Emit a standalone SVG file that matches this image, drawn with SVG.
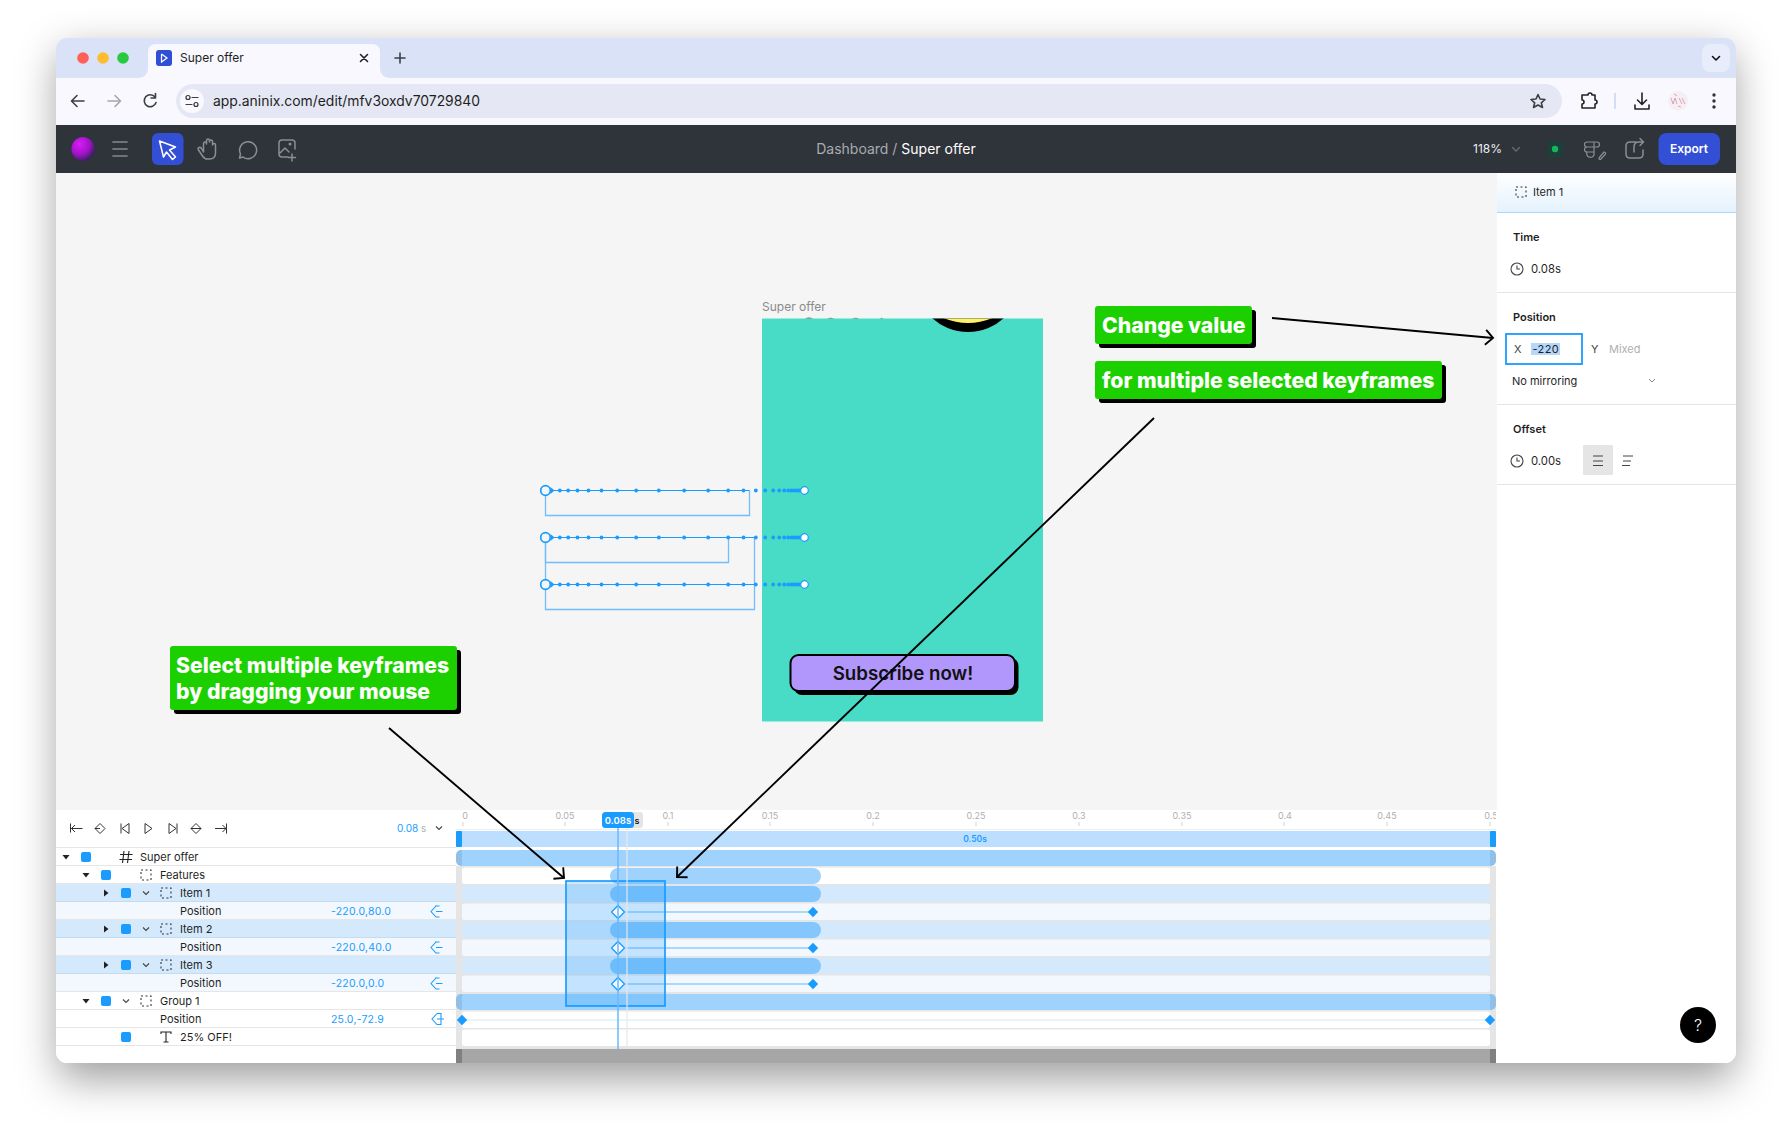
<svg xmlns="http://www.w3.org/2000/svg" width="1792" height="1137" viewBox="0 0 1792 1137">
<style>
text{font-family:Inter,"Liberation Sans",sans-serif;fill:#1f1f1f}
.t11{font-size:11px}
.b{font-weight:600}
.val{font-size:10.500px;fill:#1a9cff;letter-spacing:.2px}
.rul{font-size:9px;fill:#b0b0b0;text-anchor:middle}
.tick{stroke:#e2e2e2;stroke-width:1.5}
.ic{fill:none;stroke:#3c4043;stroke-width:1.6;stroke-linecap:round;stroke-linejoin:round}
.dk{fill:none;stroke:#8b8e93;stroke-width:1.5;stroke-linecap:round;stroke-linejoin:round}
.tb{fill:none;stroke:#333;stroke-width:1}
.sq{fill:#1a9cff}
.call{fill:#1cd000}
.shadow{fill:#000}
.cap{font-weight:800;fill:#fff;font-size:21.200px}
.arrow{fill:none;stroke:#000;stroke-width:1.900}
.path{stroke:#1a9cff;stroke-width:1.200;fill:none}
.box{stroke:#72bdfb;stroke-width:1.300;fill:none}
.dot{fill:#1a9cff}
.sep{stroke:#e6e6e6;stroke-width:1}
.item{fill:#d4e9fc}
.pos{fill:#f3f8fe}
.wht{fill:#fff}
.grp{fill:#9fd2fc}
.bar1{fill:#85c6fc}
.bar2{fill:#9fd2fc}
.kl{stroke:#a9d8fc;stroke-width:2}
.kh{fill:#f3f8fe;stroke:#1a9cff;stroke-width:1.300}
.kf{fill:#1a9cff}
.arrowtri{fill:#222}
.hr{stroke:#e5e5e5;stroke-width:1}
.ptxt{font-size:11px}
</style>
<defs>
<filter id="winshadow" x="-10%" y="-10%" width="120%" height="125%"><feGaussianBlur stdDeviation="20"/></filter>
<clipPath id="winclip"><rect x="56" y="38" width="1680" height="1025" rx="11"/></clipPath>
<clipPath id="artclip"><rect x="762" y="318.500" width="281" height="403"/></clipPath>
<clipPath id="tlclip"><rect x="456" y="810" width="1040" height="253"/></clipPath>
<linearGradient id="hdr" x1="0" y1="0" x2="0" y2="1"><stop offset="0" stop-color="#fff"/><stop offset="1" stop-color="#e4f2fd"/></linearGradient>
<radialGradient id="ball" cx=".35" cy=".3" r=".85"><stop offset="0" stop-color="#d81cf5"/><stop offset=".5" stop-color="#a313c9"/><stop offset=".85" stop-color="#3a1f63"/><stop offset="1" stop-color="#2b2a45"/></radialGradient>
<marker id="open" markerUnits="userSpaceOnUse" markerWidth="20" markerHeight="20" refX="12" refY="10" orient="auto" overflow="visible"><path d="M4.500,2.500 L12,10 L4.500,17.500" fill="none" stroke="#000" stroke-width="1.900"/></marker>
<g id="dash"><rect x="-5" y="-5" width="10" height="10" fill="none" stroke="#333" stroke-width="1.100" stroke-dasharray="2 2.500"/></g>
<g id="clock"><circle r="6" fill="none" stroke="#444" stroke-width="1.100"/><path d="M0,-3.500V0H3" fill="none" stroke="#444" stroke-width="1.100"/></g>
<g id="kficon"><path d="M0,-5.500 L-5,0 L0,5.500 H3.500 M-1,-5.500 H3.500 M0,0 H6.500" fill="none" stroke="#1a9cff" stroke-width="1.100"/></g>
<path id="tri-d" d="M-3.500,-2 H3.500 L0,2.500Z" class="arrowtri"/>
<path id="tri-r" d="M-2,-3.500 V3.500 L2.500,0Z" class="arrowtri"/>
<path id="chev" d="M-3,-1.500 L0,1.500 L3,-1.500" fill="none" stroke="#444" stroke-width="1.100"/>
<rect id="sqr" x="-5" y="-5" width="10" height="10" rx="2" class="sq"/>
<path id="kfill" d="M0,-5.200 L5.200,0 L0,5.200 L-5.200,0Z" class="kf"/>
<path id="khollow" d="M0,-6.500 L6.500,0 L0,6.500 L-6.500,0Z" class="kh"/>
<g id="mp"><path d="M550,-3.500 L554,0 L550,3.500Z" class="dot"/><g class="dot"><circle cx="559.300" r="1.900"/><circle cx="567.700" r="1.900"/><circle cx="577" r="1.900"/><circle cx="588" r="1.900"/><circle cx="601" r="1.900"/><circle cx="616.700" r="1.900"/><circle cx="635.700" r="1.900"/><circle cx="658.300" r="1.900"/><circle cx="683.700" r="1.900"/><circle cx="707.700" r="1.900"/><circle cx="727.700" r="1.900"/><circle cx="743" r="1.900"/><circle cx="755.300" r="1.900"/><circle cx="764.700" r="1.900"/><circle cx="772.700" r="1.900"/><circle cx="778.700" r="1.900"/><circle cx="783.700" r="1.900"/><circle cx="787.700" r="1.900"/><circle cx="791" r="1.900"/><circle cx="793.700" r="1.900"/><circle cx="796" r="1.900"/><circle cx="798" r="1.900"/><circle cx="800" r="1.900"/></g><circle cx="804" r="3.800" fill="#fff" stroke="#1a9cff" stroke-width="1.200"/><circle cx="545" r="4.800" fill="#f5f5f5" stroke="#1a9cff" stroke-width="1.700"/></g>
</defs>

<rect width="1792" height="1137" fill="#fff"/>
<rect x="58" y="52" width="1676" height="1027" rx="12" fill="#000" fill-opacity=".38" filter="url(#winshadow)"/>

<g clip-path="url(#winclip)">
<rect x="56" y="38" width="1680" height="1025" fill="#fff"/>
<g id="browser-chrome">
<rect x="56" y="38" width="1680" height="40" fill="#dae2f8"/>
<rect x="56" y="78" width="1680" height="47" fill="#f8f8fe"/>
<path d="M137,78 q11,0 11,-11 V52 q0,-8 8,-8 H372 q8,0 8,8 V67 q0,11 11,11Z" fill="#f8f8fe"/>
<circle cx="83" cy="58" r="5.800" fill="#ff5f57"/><circle cx="103" cy="58" r="5.800" fill="#febc2e"/><circle cx="123" cy="58" r="5.800" fill="#28c840"/>
<rect x="156" y="50" width="16" height="16" rx="3" fill="#2f4fd6"/><path d="M161.500,54 L167,58 L161.500,62 V54" fill="none" stroke="#fff" stroke-width="1.200"/>
<text x="180" y="62" style="font-size:12px">Super offer</text>
<path d="M360.500,54.500 L367.500,61.500 M367.500,54.500 L360.500,61.500" class="ic" style="stroke:#222"/>
<path d="M400,53 V63 M395,58 H405" class="ic"/>
<rect x="1702" y="44" width="28" height="28" rx="8" fill="#e8edfb"/><path d="M1712.500,56.500 L1716,60 L1719.500,56.500" class="ic" style="stroke:#111"/>
<path d="M84,101 H72 M77,95.500 L71.500,101 L77,106.500" class="ic"/>
<path d="M108,101 H120 M115,95.500 L120.500,101 L115,106.500" class="ic" style="stroke:#a5a7ad"/>
<path d="M155,97 A6,6 0 1 0 156,102.500 M155.500,93.500 V98 H151" class="ic"/>
<rect x="176" y="84" width="1386" height="34" rx="17" fill="#e5e8f4"/>
<circle cx="192" cy="101" r="12" fill="#f8f8fe"/>
<circle cx="188" cy="97.500" r="2" fill="none" stroke="#333" stroke-width="1.200"/><path d="M192,97.500 H198 M186,104.500 H192" class="ic" style="stroke-width:1.200"/><circle cx="196" cy="104.500" r="2" fill="none" stroke="#333" stroke-width="1.200"/>
<text x="213" y="105.500" style="font-size:13.900px">app.aninix.com/edit/mfv3oxdv70729840</text>
<path d="M1538,94.500 L1540,99 L1545,99.500 L1541.300,102.800 L1542.500,107.500 L1538,105 L1533.500,107.500 L1534.700,102.800 L1531,99.500 L1536,99Z" class="ic"/>
<path d="M1582,95 H1588 A2,2 0 0 1 1592,95 H1595 V100 A2,2 0 0 1 1595,104 V108 H1582 V104 A2,2 0 0 0 1582,100Z" class="ic" style="stroke:#222"/>
<rect x="1614" y="93" width="2" height="16" fill="#d3def5"/>
<path d="M1642,93 V104 M1637.500,100 L1642,104.500 L1646.500,100 M1635,105 V109 H1649 V105" class="ic" style="stroke:#222"/>
<circle cx="1678" cy="101" r="10" fill="#f7eef2"/><path d="M1671,98 l2,6 2,-6 2,6 M1679,98 l3,6 M1682,98 l3,6 M1674,94 l3,2 M1678,106 l3,1" fill="none" stroke="#c995ad" stroke-width=".8"/>
<circle cx="1714" cy="95" r="1.700" fill="#333"/><circle cx="1714" cy="101" r="1.700" fill="#333"/><circle cx="1714" cy="107" r="1.700" fill="#333"/>
</g>

<g id="app-toolbar">
<rect x="56" y="125" width="1680" height="48" fill="#2f333a"/>
<ellipse cx="83" cy="149" rx="11.500" ry="12" fill="url(#ball)"/>
<path d="M113,142 H127 M113,149 H127 M113,156 H127" class="dk" style="stroke-width:1.800;stroke:#6f7278"/>
<rect x="152" y="133" width="31.500" height="32" rx="6" fill="#334fd6"/>
<path d="M159.500,141 L175.500,147 L169.500,150 L175.500,157 L172.500,159.500 L166.500,152 L163.500,157Z" fill="none" stroke="#fff" stroke-width="1.500" stroke-linejoin="round"/>
<path d="M203.500,152 V144 q0,-2 1.500,-2 q1.500,0 1.500,2 V141 q0,-2 1.500,-2 q1.500,0 1.500,2 V142 q0,-2 1.500,-2 q1.500,0 1.500,2 V145 q0,-1.500 1.500,-1.500 q1.500,0 1.500,1.500 V153 q0,6 -6,6 h-2 q-3,0 -5,-3 l-4,-6 q-1,-2 .5,-2.500 q1.500,-.5 2.500,1z" class="dk"/>
<path d="M243,157 L239.500,158 L240.500,154 A8.500,8.500 0 1 1 243,157Z" class="dk"/>
<path d="M295,149 V143 q0,-3 -3,-3 H282 q-3,0 -3,3 V154 q0,3 3,3 H288 M280,153 L285,148 L289,152 M292,154 V161 M288.500,157.500 H295.500" class="dk"/><circle cx="290" cy="144" r="1.500" fill="#8b8e93"/>
<text x="896" y="153.500" text-anchor="middle" style="font-size:14px;fill:#a9abb0">Dashboard / <tspan style="fill:#fff">Super offer</tspan></text>
<text x="1473" y="153" style="font-size:12px;fill:#f0f0f0">118%</text>
<path d="M1512.500,147.500 L1516,151 L1519.500,147.500" class="dk" style="stroke:#666"/>
<rect x="1547" y="141" width="16" height="16" rx="3" fill="#1c4038"/><circle cx="1555" cy="149" r="3.200" fill="#15b45e"/>
<path d="M1587,142 h7 v5 h-7 a2.500,2.500 0 0 1 0,-5 M1587,147 h7 v5 h-7 a2.500,2.500 0 0 1 0,-5 M1587,152 h7 v3 a3,3 0 1 1 -7,-3 M1594,142 h3 a2.500,2.500 0 0 1 0,5 h-3 M1599,158 l5,-6 q2,0 1.500,2 l-5,5.500 q-2,0 -1.500,-1.500z" class="dk" style="stroke-width:1.200"/>
<path d="M1636,142 H1630 q-4,0 -4,4 V154 q0,4 4,4 H1639 q4,0 4,-4 V150 M1634,152 V147 q0,-5 5,-5 H1643 M1640,138.500 L1643.500,142 L1640,145.500" class="dk"/>
<rect x="1658.500" y="133" width="61.500" height="32" rx="8" fill="#334fd6"/>
<text x="1689" y="153" text-anchor="middle" class="b" style="font-size:12px;fill:#fff">Export</text>
</g>

<rect id="canvas" x="56" y="173" width="1441" height="637" fill="#f5f5f5"/>

<g id="artboard">
<text x="762" y="310.500" style="font-size:12px;fill:#8a8a8a">Super offer</text>
<rect x="762" y="318.500" width="281" height="403" fill="#48dbc5"/>
<g clip-path="url(#artclip)">
<circle cx="968" cy="278.700" r="53.300" fill="#000"/><circle cx="968" cy="260.500" r="62.500" fill="#fdf06a"/>
</g>
<path d="M805,318.500 q4,-2 8,0Z M827,318.500 q4,-1.500 7,0Z M852,318.500 q4,-1.500 7,0Z M880,318.500 q2,-1.500 3,0Z" fill="#666"/>
<g id="subscribe-button">
<rect x="794" y="658" width="224.500" height="37" rx="8" class="shadow"/>
<rect x="790.500" y="655" width="224.500" height="36" rx="8" fill="#b197fc" stroke="#000" stroke-width="2"/>
<text x="903" y="679.500" text-anchor="middle" style="font-size:18.700px;font-weight:600;fill:#111">Subscribe now!</text>
</g>
</g>

<g id="motion-paths" transform="translate(.5,.5)">
<path d="M545,490 V515 H749 V490" class="box"/>
<path d="M545,537 V562 H728 V537" class="box"/>
<path d="M545,537 V584 V609 H754 V537" class="box"/>
<path d="M545,490 H749" class="path"/><path d="M545,537 H754" class="path"/><path d="M545,584 H754" class="path"/>
<use id="dots-1" href="#mp" y="490"/>
<use id="dots-2" href="#mp" y="537"/>
<use id="dots-3" href="#mp" y="584"/>
</g>

<g id="right-panel">
<rect x="1497" y="173" width="239" height="890" fill="#fff"/>
<rect x="1497" y="173" width="239" height="39" fill="url(#hdr)"/>
<path d="M1497,212.500 H1736" stroke="#a8d8fc" stroke-width="1"/>
<use href="#dash" x="1521" y="192"/>
<text x="1533" y="196" class="ptxt">Item 1</text>
<text x="1513" y="241" class="b ptxt">Time</text>
<use href="#clock" x="1517" y="269"/>
<text x="1531" y="273" class="ptxt" style="font-size:11.300px">0.08s</text>
<path d="M1497,292.500 H1736" class="hr"/>
<text x="1513" y="321" class="b ptxt">Position</text>
<rect x="1506" y="334" width="76" height="30" fill="#fff" stroke="#1a9cff" stroke-width="1.800"/>
<text x="1514" y="353" class="ptxt" style="fill:#444">X</text>
<rect x="1531" y="343" width="29" height="12" fill="#b5d7fb"/>
<text x="1532.500" y="353" class="ptxt" style="letter-spacing:.4px">-220</text>
<text x="1591" y="353" class="ptxt" style="fill:#444">Y</text>
<text x="1609" y="353" class="ptxt" style="fill:#b0b0b0">Mixed</text>
<text x="1512" y="385" class="ptxt">No mirroring</text>
<path d="M1649,379 L1652,382 L1655,379" fill="none" stroke="#777" stroke-width=".9"/>
<path d="M1497,404.500 H1736" class="hr"/>
<text x="1513" y="433" class="b ptxt">Offset</text>
<use href="#clock" x="1517" y="461"/>
<text x="1531" y="465" class="ptxt" style="font-size:11.300px">0.00s</text>
<rect x="1583" y="445" width="30" height="30" fill="#e5e5e5"/>
<path d="M1593,456 H1603 M1593,461 H1603 M1593,465.500 H1603" stroke="#444" stroke-width="1.200"/>
<path d="M1623,456 H1633 M1623,461 H1631 M1622,465.500 H1630" stroke="#444" stroke-width="1.200"/>
<path d="M1497,484.500 H1736" class="hr"/>
</g>
<g id="help-button"><circle cx="1698" cy="1025" r="18" fill="#000"/><text x="1698" y="1031" text-anchor="middle" style="font-size:16px;font-weight:300;fill:#fff">?</text></g>

<g id="timeline-panel">
<rect x="56" y="810" width="400" height="253" fill="#fff"/>
<g id="transport">
<path d="M70.500,823.500 V832.500 M82.500,828.500 H71 M75,825 L71.500,828.500 L75,832" class="tb"/>
<path d="M100,823.500 L95,828.500 L100,833.500 L105,828.500Z M95,828.500 H100" class="tb"/>
<path d="M121,823.500 V833.500 M129,823.500 L122,828.500 L129,833.500Z" class="tb"/>
<path d="M145,823.500 L152,828.500 L145,833.500Z" class="tb"/>
<path d="M169,823.500 L176,828.500 L169,833.500Z M177,823.500 V833.500" class="tb"/>
<path d="M196,823.500 L191,828.500 L196,833.500 L201,828.500Z M191,828.500 H201" class="tb"/>
<path d="M215,828.500 H226 M222.500,825 L226,828.500 L222.500,832 M226.500,823.500 V833.500" class="tb"/>
<text x="397" y="832" style="font-size:10px;fill:#1a9cff">0.08 <tspan style="fill:#b0b0b0">s</tspan></text>
<use href="#chev" x="439" y="828"/>
</g>
<rect x="56" y="884" width="400" height="18" class="item"/><rect x="56" y="902" width="400" height="18" class="pos"/>
<rect x="56" y="920" width="400" height="18" class="item"/><rect x="56" y="938" width="400" height="18" class="pos"/>
<rect x="56" y="956" width="400" height="18" class="item"/><rect x="56" y="974" width="400" height="18" class="pos"/>
<path d="M56,847.500H456M56,865.500H456M56,883.500H456M56,919.500H456M56,955.500H456M56,991.500H456M56,1009.500H456M56,1027.500H456M56,1045.500H456" class="sep"/>
<path d="M56,901.500H456M56,937.500H456M56,973.500H456" stroke="#c3dcf2"/>
<g id="layer-super-offer"><use href="#tri-d" x="66" y="857"/><use href="#sqr" x="86" y="857"/><path d="M124,851 L122.500,863 M129,851 L127.500,863 M120,854.500 H132.500 M119.500,859.500 H132" fill="none" stroke="#222" stroke-width="1.100"/><text x="140" y="861" class="t11">Super offer</text></g>
<g id="layer-features"><use href="#tri-d" x="86" y="875"/><use href="#sqr" x="106" y="875"/><use href="#dash" x="146" y="875"/><text x="160" y="879" class="t11">Features</text></g>
<g id="layer-item-1"><use href="#tri-r" x="106" y="893"/><use href="#sqr" x="126" y="893"/><use href="#chev" x="146" y="893"/><use href="#dash" x="166" y="893"/><text x="180" y="897" class="t11">Item 1</text></g>
<g id="layer-item-1-position"><text x="180" y="915" class="t11">Position</text><text x="331" y="915" class="val">-220.0,80.0</text><use href="#kficon" x="436" y="911.500"/></g>
<g id="layer-item-2"><use href="#tri-r" x="106" y="929"/><use href="#sqr" x="126" y="929"/><use href="#chev" x="146" y="929"/><use href="#dash" x="166" y="929"/><text x="180" y="933" class="t11">Item 2</text></g>
<g id="layer-item-2-position"><text x="180" y="951" class="t11">Position</text><text x="331" y="951" class="val">-220.0,40.0</text><use href="#kficon" x="436" y="947.500"/></g>
<g id="layer-item-3"><use href="#tri-r" x="106" y="965"/><use href="#sqr" x="126" y="965"/><use href="#chev" x="146" y="965"/><use href="#dash" x="166" y="965"/><text x="180" y="969" class="t11">Item 3</text></g>
<g id="layer-item-3-position"><text x="180" y="987" class="t11">Position</text><text x="331" y="987" class="val">-220.0,0.0</text><use href="#kficon" x="436" y="983.500"/></g>
<g id="layer-group-1"><use href="#tri-d" x="86" y="1001"/><use href="#sqr" x="106" y="1001"/><use href="#chev" x="126" y="1001"/><use href="#dash" x="146" y="1001"/><text x="160" y="1005" class="t11">Group 1</text></g>
<g id="layer-group-1-position"><text x="160" y="1023" class="t11">Position</text><text x="331" y="1023" class="val">25.0,-72.9</text><path d="M437,1013.500 L432,1019 L437,1024.500 H441 V1013.500 H437 M437,1019 H444" fill="none" stroke="#1a9cff" stroke-width="1.100"/></g>
<g id="layer-text"><use href="#sqr" x="126" y="1037"/><path d="M161,1034 V1032 H171 V1034 M166,1032 V1042 M163.500,1042 H168.500" fill="none" stroke="#222" stroke-width="1.100"/><text x="180" y="1041" class="t11">25% OFF!</text></g>
</g>

<g id="timeline" clip-path="url(#tlclip)">
<rect x="456" y="810" width="1040" height="253" fill="#fff"/>
<path d="M455.500,810 V1063" stroke="#e5e5e5"/>
<g id="ruler">
<text x="465" y="819" class="rul">0</text><text x="565" y="819" class="rul">0.05</text><text x="668" y="819" class="rul">0.1</text><text x="770" y="819" class="rul">0.15</text><text x="873" y="819" class="rul">0.2</text><text x="976" y="819" class="rul">0.25</text><text x="1079" y="819" class="rul">0.3</text><text x="1182" y="819" class="rul">0.35</text><text x="1285" y="819" class="rul">0.4</text><text x="1387" y="819" class="rul">0.45</text><text x="1491" y="819" class="rul">0.5</text>
<path d="M463,822V826M565,822V826M668,822V826M770,822V826M873,822V826M976,822V826M1079,822V826M1182,822V826M1284,822V826M1387,822V826M1490,822V826" class="tick"/>
<path d="M456,829.500H1496" stroke="#eee"/>
</g>
<rect x="456" y="831" width="1040" height="16" fill="#bddfff"/>
<rect x="456" y="831" width="6" height="16" rx="1" fill="#1a9cff"/><rect x="1490" y="831" width="6" height="16" rx="1" fill="#1a9cff"/>
<text x="975" y="842" text-anchor="middle" class="b" style="font-size:8.500px;fill:#1a9cff">0.50s</text>
<rect x="456" y="866" width="1040" height="183" fill="#e5e5e5"/>
<rect x="456" y="850" width="1040" height="16" rx="5" fill="#8fc0ea"/><rect x="462" y="850" width="1028" height="16" class="grp"/>
<rect x="462" y="867.500" width="1028" height="16.500" rx="2.500" class="wht"/>
<rect x="462" y="885.500" width="1028" height="16.500" rx="2.500" class="item"/>
<rect x="462" y="903.500" width="1028" height="16.500" rx="2.500" class="pos"/>
<rect x="462" y="921.500" width="1028" height="16.500" rx="2.500" class="item"/>
<rect x="462" y="939.500" width="1028" height="16.500" rx="2.500" class="pos"/>
<rect x="462" y="957.500" width="1028" height="16.500" rx="2.500" class="item"/>
<rect x="462" y="975.500" width="1028" height="16.500" rx="2.500" class="pos"/>
<rect x="456" y="994" width="1040" height="16" rx="5" fill="#8fc0ea"/><rect x="462" y="994" width="1028" height="16" class="grp"/>
<rect x="462" y="1011.500" width="1028" height="16.500" rx="2.500" class="wht"/>
<rect x="462" y="1029.500" width="1028" height="16.500" rx="2.500" class="wht"/>
<path d="M462,1020 H1490" stroke="#e8f4fc" stroke-width="2"/>
<g id="bars">
<rect x="610" y="868" width="211" height="16" rx="8" class="bar2"/>
<rect x="610" y="886" width="211" height="16" rx="8" class="bar1"/>
<rect x="610" y="922" width="211" height="16" rx="8" class="bar1"/>
<rect x="610" y="958" width="211" height="16" rx="8" class="bar1"/>
<path d="M626,912H813M626,948H813M626,984H813" class="kl"/>
</g>
<rect x="566" y="881" width="99" height="125" fill="#1a9cff" fill-opacity=".22" stroke="#1a9cff" stroke-width="1.700"/>
<path d="M627,827 V1049" stroke="#e8e8e8" stroke-width="1.500" stroke-opacity=".8"/>
<g id="keyframes">
<use href="#khollow" x="618" y="912"/><use href="#khollow" x="618" y="948"/><use href="#khollow" x="618" y="984"/>
<use href="#kfill" x="813" y="912"/><use href="#kfill" x="813" y="948"/><use href="#kfill" x="813" y="984"/>
<use href="#kfill" x="462" y="1020"/><use href="#kfill" x="1490" y="1020"/>
</g>
<rect x="456" y="1049" width="1040" height="14" fill="#a6a6a6"/>
<rect x="456" y="1049" width="6" height="14" fill="#808080"/><rect x="1490" y="1049" width="6" height="14" fill="#808080"/>
<path d="M618,826 V1049" stroke="#6ab9ff" stroke-width="1.500"/>
<rect x="625" y="812" width="18" height="16" rx="3" fill="#e5e5e5"/>
<text x="637" y="823.500" text-anchor="middle" class="b" style="font-size:9px;fill:#111">s</text>
<rect x="602" y="812" width="32" height="16" rx="3.500" fill="#1a9cff"/>
<text x="618" y="823.500" text-anchor="middle" class="b" style="font-size:9.500px;fill:#fff">0.08s</text>
</g>
</g>

<g id="callout-select">
<rect x="174" y="650" width="287" height="64" rx="3" class="shadow"/>
<rect x="170" y="646" width="287" height="64" rx="3" class="call"/>
<text x="176" y="673" class="cap">Select multiple keyframes</text>
<text x="176" y="699" class="cap">by dragging your mouse</text>
</g>
<g id="callout-change">
<rect x="1099" y="310" width="157" height="38" rx="3" class="shadow"/>
<rect x="1095" y="306" width="157" height="38" rx="3" class="call"/>
<text x="1102" y="333" class="cap">Change value</text>
</g>
<g id="callout-multiple">
<rect x="1099" y="365" width="347" height="38" rx="3" class="shadow"/>
<rect x="1095" y="361" width="347" height="38" rx="3" class="call"/>
<text x="1102" y="388" class="cap">for multiple selected keyframes</text>
</g>
<g id="connectors">
<line x1="1272" y1="318" x2="1493" y2="338" class="arrow" marker-end="url(#open)"/>
<line x1="1154" y1="418" x2="677" y2="877" class="arrow" marker-end="url(#open)"/>
<line x1="389" y1="728" x2="564" y2="878" class="arrow" marker-end="url(#open)"/>
</g>
</svg>
